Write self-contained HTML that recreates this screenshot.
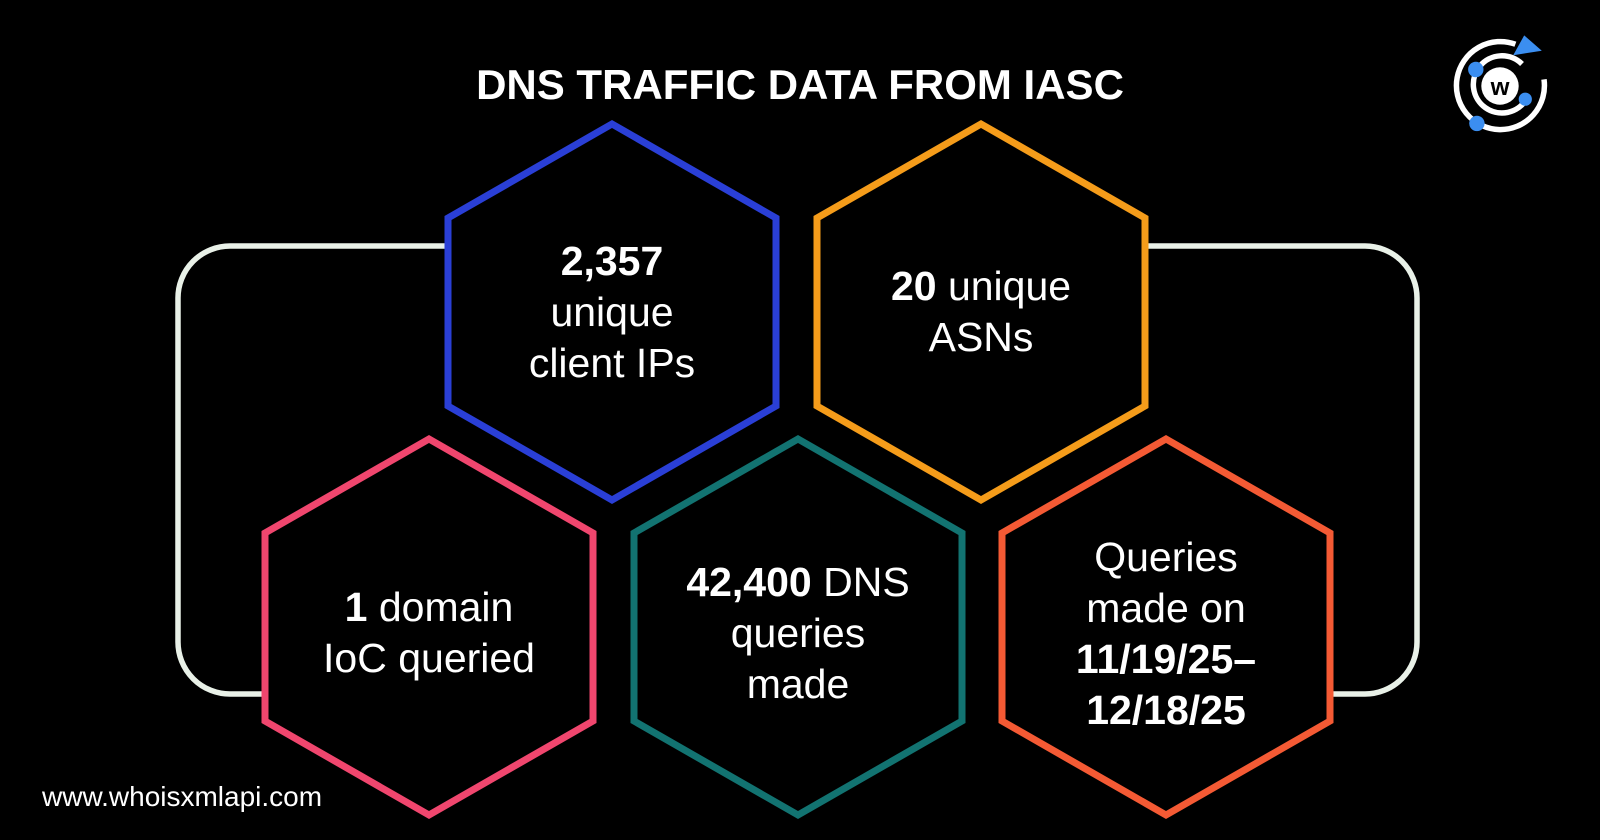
<!DOCTYPE html>
<html><head><meta charset="utf-8"><style>
html,body{margin:0;padding:0;background:#000;}
svg{display:block}
text{font-family:"Liberation Sans",Arial,sans-serif;fill:#fff;}
</style></head><body>
<svg width="1600" height="840" viewBox="0 0 1600 840" xmlns="http://www.w3.org/2000/svg">
<rect width="1600" height="840" fill="#000"/>
<path d="M 448,246 H 230 A 52 52 0 0 0 178,298 V 642 A 52 52 0 0 0 230,694 H 265" fill="none" stroke="#e9f1e8" stroke-width="5.5"/>
<path d="M 1145,246 H 1365 A 52 52 0 0 1 1417,298 V 642 A 52 52 0 0 1 1365,694 H 1330" fill="none" stroke="#e9f1e8" stroke-width="5.5"/>
<g stroke-width="7" fill="#000" stroke-linejoin="miter">
<polygon points="612,124 776,218 776,406 612,500 448,406 448,218" stroke="#2a3fd6"/>
<polygon points="981,124 1145,218 1145,406 981,500 817,406 817,218" stroke="#f59c1a"/>
<polygon points="429,439 593,533 593,721 429,815 265,721 265,533" stroke="#f0466e"/>
<polygon points="798,439 962,533 962,721 798,815 634,721 634,533" stroke="#127371"/>
<polygon points="1166,439 1330,533 1330,721 1166,815 1002,721 1002,533" stroke="#f45a34"/>
</g>
<text x="800" y="99" text-anchor="middle" font-size="42" font-weight="bold">DNS TRAFFIC DATA FROM IASC</text>
<g font-size="41" text-anchor="middle">
<text x="612" y="275" font-weight="bold">2,357</text>
<text x="612" y="326">unique</text>
<text x="612" y="377">client IPs</text>
<text x="981" y="300"><tspan font-weight="bold">20</tspan> unique</text>
<text x="981" y="351">ASNs</text>
<text x="429" y="621"><tspan font-weight="bold">1</tspan> domain</text>
<text x="429" y="672">IoC queried</text>
<text x="798" y="596"><tspan font-weight="bold">42,400</tspan> DNS</text>
<text x="798" y="647">queries</text>
<text x="798" y="698">made</text>
<text x="1166" y="571">Queries</text>
<text x="1166" y="622">made on</text>
<text x="1166" y="673" font-weight="bold">11/19/25–</text>
<text x="1166" y="724" font-weight="bold">12/18/25</text>
</g>
<text x="42" y="806" font-size="28">www.whoisxmlapi.com</text>
<g transform="translate(1500,86) scale(1.1)">
<path d="M 14,-38 A 40 40 0 1 0 40,-6" fill="none" stroke="#fff" stroke-width="5"/>
<path d="M 20,-20 A 26 26 0 1 0 24,12" fill="none" stroke="#fff" stroke-width="5"/>
<circle cx="0" cy="0" r="17" fill="#fff"/>
<text x="0" y="8" text-anchor="middle" font-size="22" font-weight="bold" style="fill:#000">w</text>
<polygon points="12,-28 22,-46 38,-32" fill="#3b8ef0"/>
<circle cx="-22" cy="-15" r="7" fill="#3b8ef0"/>
<circle cx="23" cy="12" r="6" fill="#3b8ef0"/>
<circle cx="-21" cy="34" r="7" fill="#3b8ef0"/>
</g>
</svg>
</body></html>
